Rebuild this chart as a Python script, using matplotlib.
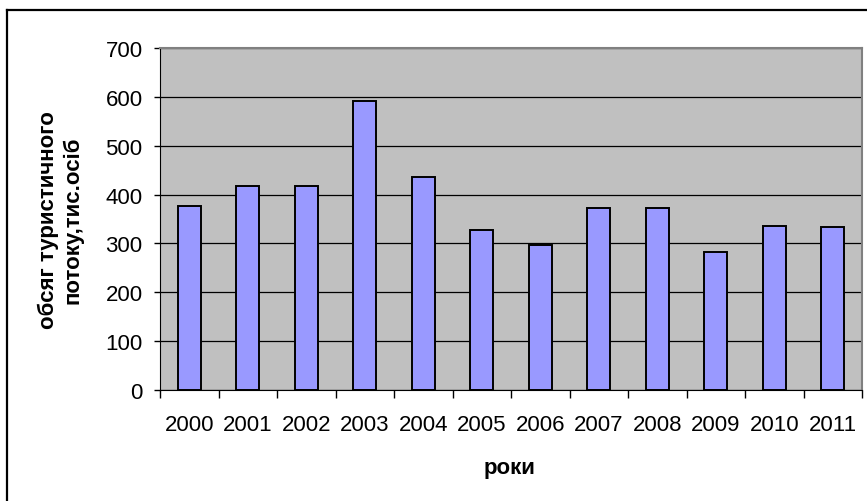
import matplotlib.pyplot as plt
import numpy as np
from matplotlib.lines import Line2D

plt.rcParams['font.family'] = ['Liberation Sans', 'DejaVu Sans']

years = ['2000', '2001', '2002', '2003', '2004', '2005',
         '2006', '2007', '2008', '2009', '2010', '2011']
flow = [376, 417, 417, 591, 436, 327, 297, 372, 372, 283, 335, 333]

W, H = 867, 502
fig = plt.figure(figsize=(W / 100, H / 100), dpi=100)

# outer chart border (runs off the right and bottom edges)
fig.add_artist(Line2D([7 / W, 7 / W], [0, 1 - 11 / H], transform=fig.transFigure,
                      color='black', lw=1.6))
fig.add_artist(Line2D([7 / W, 1], [1 - 11 / H, 1 - 11 / H], transform=fig.transFigure,
                      color='black', lw=1.6))

ax = fig.add_axes([160 / W, 111 / H, 702 / W, 342 / H])
ax.set_facecolor('#c0c0c0')

x = np.arange(len(years))
ax.bar(x, flow, width=0.4, color='#9999ff', edgecolor='black', linewidth=1.4, zorder=3)

ax.set_xlim(-0.5, len(years) - 0.5)
ax.set_ylim(0, 700)
ax.set_yticks(range(0, 701, 100))
ax.yaxis.grid(True, color='black', linewidth=0.9, zorder=1)
ax.set_axisbelow(True)

# category ticks sit between the bars, labels under the bars
ax.set_xticks(np.arange(-0.5, len(years), 1.0))
ax.set_xticklabels([])
ax.set_xticks(x, minor=True)
ax.set_xticklabels(years, minor=True)
ax.tick_params(axis='x', which='minor', length=0, pad=17, labelsize=16)
ax.tick_params(axis='x', which='major', length=5.5, width=1, direction='out')
ax.tick_params(axis='y', length=4.5, width=1, direction='out', pad=8, labelsize=16)

for side in ['top', 'right']:
    ax.spines[side].set_color('#808080')
    ax.spines[side].set_linewidth(1.5)
ax.spines['left'].set_color('black')
ax.spines['bottom'].set_color('black')

fig.text(510 / W, 1 - 469 / H, 'роки', ha='center', va='center',
         fontsize=16, fontweight='bold')
fig.text(61 / W, 1 - 220 / H, 'обсяг туристичного\nпотоку,тис.осіб', ha='center',
         va='center', rotation=90, fontsize=16, fontweight='bold', linespacing=1.2)

fig.savefig('out.png', dpi=100)
